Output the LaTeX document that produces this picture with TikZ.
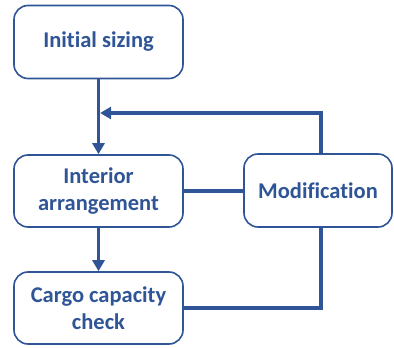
\documentclass[tikz,border=0pt]{standalone}
\usepackage{fontspec}
\setmainfont{Carlito}[Ligatures=NoCommon]
\usetikzlibrary{arrows.meta}
\definecolor{blu}{HTML}{2F5597}
\begin{document}
\begin{tikzpicture}[x=1pt,y=-1pt,
  box/.style={draw=blu,line width=1.6pt,rounded corners=14pt,fill=white,
    text=blu,font=\bfseries\fontsize{22.5}{27}\selectfont,align=center,
    inner sep=0pt,minimum height=72pt},
  conn/.style={draw=blu,line width=3.2pt},
  arr/.style={conn,-{Triangle[length=11pt,width=12pt]}}]
\useasboundingbox (0,0) rectangle (394,348);
\node[box,minimum width=169pt,minimum height=73pt] (init) at (98.5,42) {Initial sizing};
\node[box,minimum width=169pt] (inter) at (98.5,191) {Interior\\arrangement};
\node[box,minimum width=169pt] (cargo) at (98.5,308) {Cargo capacity\\check};
\node[box,minimum width=148pt,minimum height=73pt] (mod) at (318,190.5) {Modification};
\coordinate (j) at (98.5,113);
\draw[arr] (init.south) -- (inter.north);
\draw[arr] (inter.south) -- (cargo.north);
\draw[conn] (inter.east) -- (inter.east -| mod.west);
\draw[arr] ([xshift=3pt]mod.north) |- ([xshift=1.6pt]j);
\draw[conn] ([xshift=3pt]mod.south) |- (cargo.east);
\end{tikzpicture}
\end{document}
